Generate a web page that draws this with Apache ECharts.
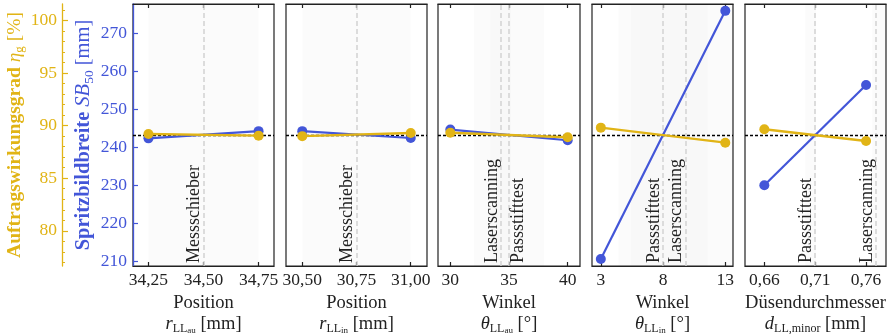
<!DOCTYPE html>
<html><head><meta charset="utf-8">
<script src="https://cdn.jsdelivr.net/npm/echarts@6/dist/echarts.min.js"></script>
<style>html,body{margin:0;padding:0;background:#fff}#c{width:888px;height:334px}</style>
</head><body><div id="c"></div>
<script>
// ---- data ----
const xValues = [[34.25, 34.75], [30.50, 31.00], [30, 40], [3, 13], [0.66, 0.76]];
const blueValues = [[242.4, 244.3], [244.3, 242.5], [244.7, 241.9], [210.7, 275.9], [230.1, 256.4]];
const yellowValues = [[89.2, 89.05], [89.0, 89.3], [89.33, 88.9], [89.81, 88.38], [89.66, 88.54]];
const xTicks = [[34.25, 34.5, 34.75], [30.5, 30.75, 31.0], [30, 35, 40], [3, 8, 13], [0.66, 0.71, 0.76]];
const xTickLabels = [['34,25', '34,50', '34,75'], ['30,50', '30,75', '31,00'], ['30', '35', '40'], ['3', '8', '13'], ['0,66', '0,71', '0,76']];
const blueTicks = [210, 220, 230, 240, 250, 260, 270];
const yellowMajorTicks = [80, 85, 90, 95, 100];
const yellowMinorTicks = [77, 78, 79, 80, 81, 82, 83, 84, 85, 86, 87, 88, 89, 90, 91, 92, 93, 94, 95, 96, 97, 98, 99, 100, 101];
const refNames = [['Messschieber'], ['Messschieber'], ['Laserscanning', 'Passstifttest'], ['Passstifttest', 'Laserscanning'], ['Passstifttest', 'Laserscanning']];
const refValues = [[34.5], [30.75], [34.3, 35.0], [8, 9.8], [0.71, 0.7745]];
const bandValues = [[[34.25, 34.75]], [[30.5, 31.0]], [[32, 38], [33.4, 35.2]], [[4.4, 11.6], [5.4, 14.2]], [[0.700, 0.711], [0.766, 0.785]]];
const xNameTop = ['Position', 'Position', 'Winkel', 'Winkel', 'Düsendurchmesser'];
const xNameSym = ['r', 'r', 'θ', 'θ', 'd'];
const xNameSub = ['LL', 'LL', 'LL', 'LL', 'LL,minor'];
const xNameSubSub = ['au', 'in', 'au', 'in', ''];
const xNameUnit = ['[mm]', '[mm]', '[°]', '[°]', '[mm]'];

// ---- layout / style ----
const gridLeft = [133, 286, 438, 592, 745];
const gridWidth = [141, 141, 142, 141, 141];
const xRange = [[34.18, 34.82], [30.425, 31.075], [28.95, 41.05], [2.29, 13.62], [0.641, 0.7796]];
const blueRange = [208.87, 277.7];
const yellowRange = [76.65, 101.57];
const BLUE = '#4356d8', YELLOW = '#e1b416', INK = '#222';
const FONT = 'Liberation Serif';
const FS = 17.5;
const sideRight = [[false], [false], [false, true], [false, false], [false, false]];

const mean = a => a.reduce((s, v) => s + v, 0) / a.length;
const blueMean = mean(blueValues.flat());

const grids = [], xAxes = [], yAxes = [], series = [];
const txt = {fontFamily: FONT, fontSize: FS, color: INK};

for (let i = 0; i < 5; i++) {
  grids.push({left: gridLeft[i], top: 4, width: gridWidth[i], height: 262, show: true, borderColor: INK, borderWidth: 1.2,
    backgroundColor: 'transparent', containLabel: false, outerBoundsMode: 'none'});
  xAxes.push({
    type: 'value', gridIndex: i, min: xRange[i][0], max: xRange[i][1], position: 'bottom',
    axisLine: {show: true, lineStyle: {color: INK, width: 1.2}},
    axisTick: {show: true, inside: true, length: 4, customValues: xTicks[i], lineStyle: {color: INK, width: 1.2}},
    axisLabel: {show: true, customValues: xTicks[i], margin: 5, ...txt,
      formatter: v => { const k = xTicks[i].findIndex(t => Math.abs(t - v) < 1e-9); return k >= 0 ? xTickLabels[i][k] : ''; }},
    splitLine: {show: false},
    name: `{a|${xNameTop[i]}}\n{i|${xNameSym[i]}}{s|${xNameSub[i]}}{ss|${xNameSubSub[i]}}{a| ${xNameUnit[i]}}`,
    nameLocation: 'middle', nameGap: 18,
    nameTextStyle: {fontFamily: FONT, color: INK, rich: {
      a: {fontFamily: FONT, fontSize: 18.5, color: INK, lineHeight: 21},
      i: {fontFamily: FONT, fontSize: 18.5, fontStyle: 'italic', color: INK, lineHeight: 21},
      s: {fontFamily: FONT, fontSize: 12, color: INK, lineHeight: 21, verticalAlign: 'bottom'},
      ss: {fontFamily: FONT, fontSize: 9, color: INK, lineHeight: 21, verticalAlign: 'bottom'}
    }}
  });
  xAxes.push({
    type: 'value', gridIndex: i, min: xRange[i][0], max: xRange[i][1], position: 'top',
    axisLine: {show: true, lineStyle: {color: INK, width: 1.2}},
    axisTick: {show: true, inside: true, length: 4, customValues: xTicks[i], lineStyle: {color: INK, width: 1.2}},
    axisLabel: {show: false}, splitLine: {show: false}
  });
  yAxes.push({
    type: 'value', gridIndex: i, min: blueRange[0], max: blueRange[1], position: 'left', show: i === 0,
    axisLine: {show: true, lineStyle: {color: BLUE, width: 1.3}},
    axisTick: {show: true, inside: true, length: 5, customValues: blueTicks, lineStyle: {color: BLUE, width: 1.2}},
    axisLabel: {show: true, customValues: blueTicks, margin: 6, fontFamily: FONT, fontSize: FS, color: BLUE},
    splitLine: {show: false},
    name: i === 0 ? '{b|Spritzbildbreite }{i|SB}{s|50}{r| [mm]}' : '',
    nameLocation: 'middle', nameRotate: 90, nameGap: 37,
    nameTextStyle: {rich: {
      b: {fontFamily: FONT, fontSize: 20.5, fontWeight: 'bold', color: BLUE, lineHeight: 24},
      i: {fontFamily: FONT, fontSize: 20.5, fontStyle: 'italic', color: BLUE, lineHeight: 24},
      s: {fontFamily: FONT, fontSize: 13.5, color: BLUE, lineHeight: 24, verticalAlign: 'bottom'},
      r: {fontFamily: FONT, fontSize: 20.5, color: BLUE, lineHeight: 24}
    }}
  });
  yAxes.push({
    type: 'value', gridIndex: i, min: yellowRange[0], max: yellowRange[1], position: 'left', offset: 71, show: i === 0,
    axisLine: {show: true, lineStyle: {color: YELLOW, width: 1.3}},
    axisTick: {show: true, inside: true, length: 3, customValues: yellowMinorTicks, lineStyle: {color: YELLOW, width: 1}},
    axisLabel: {show: false}, splitLine: {show: false}
  });
}
yAxes.push({
  type: 'value', gridIndex: 0, min: yellowRange[0], max: yellowRange[1], position: 'left', offset: 71,
  axisLine: {show: false},
  axisTick: {show: true, inside: true, length: 6, customValues: yellowMajorTicks, lineStyle: {color: YELLOW, width: 1.2}},
  axisLabel: {show: true, customValues: yellowMajorTicks, margin: 5, fontFamily: FONT, fontSize: FS, color: YELLOW},
  splitLine: {show: false},
  name: '{b|Auftragswirkungsgrad }{i|η}{s|g}{r| [%]}',
  nameLocation: 'middle', nameRotate: 90, nameGap: 36,
  nameTextStyle: {rich: {
    b: {fontFamily: FONT, fontSize: 19.5, fontWeight: 'bold', color: YELLOW, lineHeight: 23},
    i: {fontFamily: FONT, fontSize: 19.5, fontStyle: 'italic', color: YELLOW, lineHeight: 23},
    s: {fontFamily: FONT, fontSize: 13, color: YELLOW, lineHeight: 23, verticalAlign: 'bottom'},
    r: {fontFamily: FONT, fontSize: 19.5, color: YELLOW, lineHeight: 23}
  }}
});

for (let i = 0; i < 5; i++) {
  const xb = 2 * i, yb = 2 * i, yy = 2 * i + 1;
  series.push({
    type: 'line', xAxisIndex: xb, yAxisIndex: yb, data: [], z: 1, silent: true,
    markArea: {silent: true, z: 1, itemStyle: {color: 'rgba(0,0,0,0.016)'},
      data: bandValues[i].map(b => [{xAxis: b[0]}, {xAxis: b[1]}])},
    markLine: {silent: true, z: 2, symbol: ['none', 'none'], animation: false,
      data: refValues[i].map((v, k) => ({
        xAxis: v,
        lineStyle: {color: '#d2d2d2', width: 1.5, type: [5, 3]},
        label: {show: true, formatter: refNames[i][k], position: sideRight[i][k] ? 'insideStartBottom' : 'insideStartTop',
          distance: [3, 0], fontFamily: FONT, fontSize: 18, color: INK}
      })).concat([{
        yAxis: blueMean,
        lineStyle: {color: '#000', width: 1.3, type: [3, 2]},
        label: {show: false}
      }])}
  });
  series.push({
    type: 'line', xAxisIndex: xb, yAxisIndex: yb, z: 3,
    data: xValues[i].map((x, k) => [x, blueValues[i][k]]),
    symbol: 'circle', symbolSize: 10, lineStyle: {color: BLUE, width: 2.2}, itemStyle: {color: BLUE}
  });
  series.push({
    type: 'line', xAxisIndex: xb, yAxisIndex: yy, z: 4,
    data: xValues[i].map((x, k) => [x, yellowValues[i][k]]),
    symbol: 'circle', symbolSize: 10, lineStyle: {color: YELLOW, width: 2.4}, itemStyle: {color: YELLOW}
  });
}

const chart = echarts.init(document.getElementById('c'), null, {renderer: 'canvas'});
chart.setOption({animation: false, grid: grids, xAxis: xAxes, yAxis: yAxes, series: series});
</script></body></html>
